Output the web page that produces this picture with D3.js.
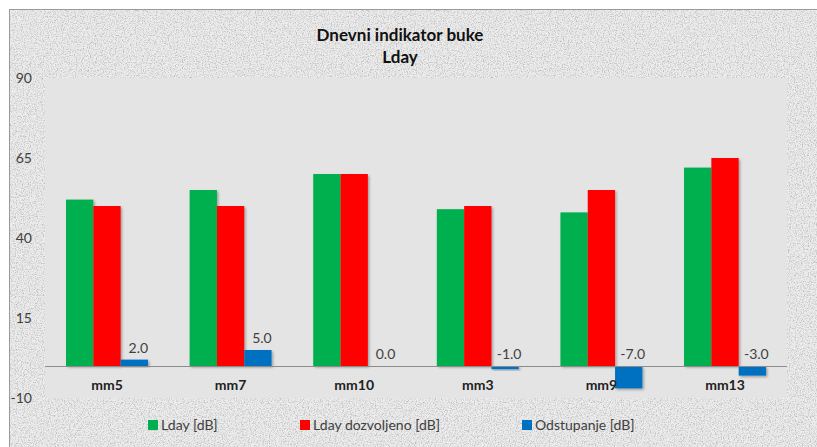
<!DOCTYPE html>
<html><head><meta charset="utf-8">
<script src="https://cdn.jsdelivr.net/npm/d3@7"></script>
<style>html,body{margin:0;padding:0;background:#fff;}svg{display:block;}</style>
</head><body>
<svg id="chart" width="817" height="447"></svg>
<script>
const categories = ["mm5","mm7","mm10","mm3","mm9","mm13"];
const lday = [52,55,60,49,48,62];
const ldayAllowed = [50,50,60,50,55,65];
const deviation = [2,5,0,-1,-7,-3];
const seriesNames = ["Lday [dB]","Lday dozvoljeno [dB]","Odstupanje [dB]"];
const seriesColors = ["#00b050","#ff0000","#0070c0"];
const yTicks = [-10,15,40,65,90];
const titleLines = ["Dnevni indikator buke","Lday"];

const svg = d3.select("#chart");
const W = 817, H = 447;
const font = "Lato, 'Open Sans', sans-serif";
const hyphenFmt = fmt => v => fmt(v).replace("\u2212","-");

const defs = svg.append("defs");
const f = defs.append("filter").attr("id","granite").attr("x",0).attr("y",0).attr("width","100%").attr("height","100%");
f.append("feTurbulence").attr("type","fractalNoise").attr("baseFrequency",0.85).attr("numOctaves",3).attr("seed",4).attr("result","n");
f.append("feColorMatrix").attr("in","n").attr("type","matrix")
 .attr("values","0 0 0 0 0.5  0 0 0 0 0.5  0 0 0 0 0.5  0 0 0 -2.6 1.45").attr("result","c");
f.append("feComposite").attr("in","c").attr("in2","SourceGraphic").attr("operator","in");
const sh = defs.append("filter").attr("id","shadow").attr("x","-20%").attr("y","-20%").attr("width","150%").attr("height","150%");
sh.append("feDropShadow").attr("dx",1.5).attr("dy",1.5).attr("stdDeviation",1).attr("flood-color","#000").attr("flood-opacity",0.3);

// outer chart area
svg.append("rect").attr("x",9.5).attr("y",9.5).attr("width",W-9).attr("height",H).attr("fill","#ececec").attr("stroke","#9a9a9a");
svg.append("rect").attr("x",10).attr("y",10).attr("width",W-10).attr("height",H-10).attr("fill","#ececec").attr("filter","url(#granite)");

const m = {left:45, right:W-787, top:78, bottom:H-398};
const pw = W - m.left - m.right, ph = H - m.top - m.bottom;

svg.append("rect").attr("x",m.left).attr("y",m.top).attr("width",pw).attr("height",ph).attr("fill","#e5e4e5");

const x0 = d3.scaleBand().domain(categories).range([m.left, m.left+pw]).paddingInner(0.337).paddingOuter(0.17);
const x1 = d3.scaleBand().domain([0,1,2]).range([0, x0.bandwidth()]);
const y = d3.scaleLinear().domain([-10,90]).range([m.top+ph, m.top]);

// y axis labels
const yAxis = d3.axisLeft(y).tickValues(yTicks).tickSize(0).tickPadding(0).tickFormat(hyphenFmt(d3.format("d")));
const ya = svg.append("g").attr("transform",`translate(32,0)`).call(yAxis);
ya.select(".domain").remove();
ya.selectAll("text").attr("font-family",font).attr("font-size",14).attr("fill","#404040");

const data = [lday, ldayAllowed, deviation];
const g = svg.append("g");
data.forEach((vals, s) => {
  g.selectAll(null).data(vals).enter().append("rect")
    .attr("x",(d,i)=>x0(categories[i])+x1(s))
    .attr("width",x1.bandwidth())
    .attr("y",d=>y(Math.max(d,0)))
    .attr("height",d=>Math.abs(y(d)-y(0)))
    .attr("fill",seriesColors[s])
    .attr("filter","url(#shadow)");
});

// zero axis line
svg.append("line").attr("x1",m.left).attr("x2",m.left+pw).attr("y1",y(0)+0.5).attr("y2",y(0)+0.5).attr("stroke","#8c8c8c").attr("stroke-width",1);

// data labels for deviation
const lblFmt = hyphenFmt(d3.format(".1f"));
g.selectAll(null).data(deviation).enter().append("text")
  .attr("x",(d,i)=>x0(categories[i])+x1(2)+x1.bandwidth()/2+4)
  .attr("y",d=>y(Math.max(d,0))-12)
  .attr("dy","0.35em")
  .attr("text-anchor","middle")
  .attr("font-family",font).attr("font-size",14).attr("fill","#404040")
  .text(d=>lblFmt(d));

// category labels
const xAxis = d3.axisBottom(x0).tickSize(0).tickPadding(0);
const xa = svg.append("g").attr("transform",`translate(0,${y(0)+13})`).call(xAxis);
xa.select(".domain").remove();
xa.selectAll("text").attr("font-family",font).attr("font-size",14).attr("font-weight","bold").attr("fill","#222").attr("dy","0.35em").attr("y",6);

// title
svg.append("g").selectAll("text").data(titleLines).enter().append("text")
  .attr("x",400).attr("y",(d,i)=>35+i*22).attr("dy","0.35em")
  .attr("text-anchor","middle").attr("font-family",font).attr("font-size",17).attr("font-weight","bold").attr("fill","#111")
  .text(d=>d);

// legend
const legX = [148,300,522];
const lg = svg.append("g");
seriesNames.forEach((n,i)=>{
  lg.append("rect").attr("x",legX[i]).attr("y",420).attr("width",10).attr("height",10).attr("fill",seriesColors[i]);
  lg.append("text").attr("x",legX[i]+13).attr("y",425).attr("dy","0.35em")
    .attr("font-family",font).attr("font-size",14).attr("fill","#404040").text(n);
});
</script>
</body></html>
